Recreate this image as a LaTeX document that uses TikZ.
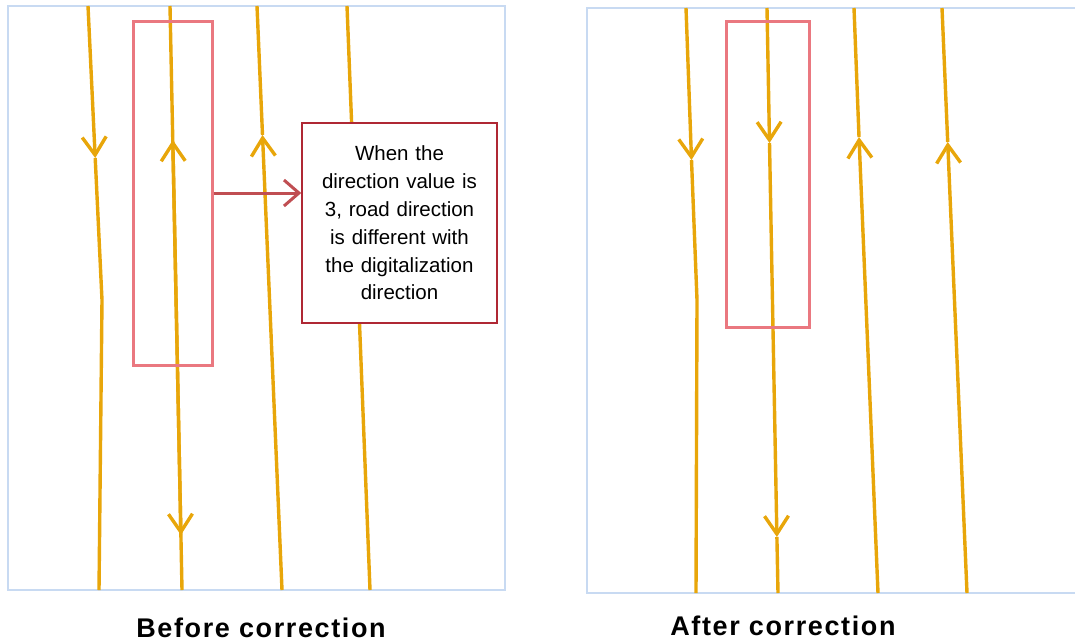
\documentclass[tikz,border=0pt]{standalone}
\usepackage{fontspec}
\setmainfont{Liberation Sans}
\newfontfamily\capfont[LetterSpace=6]{Liberation Sans}
\usetikzlibrary{arrows.meta}
\definecolor{roadc}{RGB}{232,166,10}
\definecolor{framec}{RGB}{200,218,242}
\definecolor{selc}{RGB}{234,120,128}
\definecolor{notec}{RGB}{175,40,52}
\definecolor{linkc}{RGB}{192,78,82}
\begin{document}
\begin{tikzpicture}[x=1pt,y=-1pt,
  road/.style={draw=roadc,line width=3.4pt},
  barb/.style={-{Straight Barb[length=18pt,width=24pt,line width=3.4pt]}},
  frame/.style={draw=framec,line width=1.5pt},
  selbox/.style={draw=selc,line width=3pt,inner sep=0pt},
  notebox/.style={draw=notec,line width=1.5pt,fill=white,inner sep=0pt,
    minimum width=195pt,minimum height=200pt,text width=185pt,align=center,
    font=\fontsize{20.5}{27.8}\selectfont},
  caption/.style={font=\capfont\bfseries\fontsize{27}{30}\selectfont,anchor=base}]
\useasboundingbox (0,0) rectangle (1075,643);
% frames
\draw[frame] (8,6) rectangle (505,590);
\draw[frame] (1075,8) -- (587,8) -- (587,593) -- (1075,593);
% ---------- left panel roads ----------
\coordinate (a1t) at (88,6);   \coordinate (a1m) at (95.2,158);
\coordinate (a1k) at (102,300); \coordinate (a1b) at (99,590);
\draw[road,barb] (a1t) -- (a1m);
\draw[road] (a1m) -- (a1k) -- (a1b);
\coordinate (a2t) at (170,6);   \coordinate (a2u) at (172.8,140);
\coordinate (a2d) at (180.9,535); \coordinate (a2b) at (182,590);
\draw[road,barb] (a2t) -- (a2d);
\draw[road,barb] (a2d) -- (a2u);
\draw[road] (a2d) -- (a2b);
\coordinate (a3t) at (257,6);   \coordinate (a3u) at (262.5,135);
\coordinate (a3b) at (282,590);
\draw[road,barb] (a3b) -- (a3u);
\draw[road] (a3u) -- (a3t);
\coordinate (a4t) at (347,6);   \coordinate (a4b) at (370,590);
\draw[road] (a4t) -- (a4b);
% ---------- right panel roads ----------
\coordinate (b1t) at (686,8);   \coordinate (b1m) at (691.5,160);
\coordinate (b1k) at (697,300); \coordinate (b1b) at (696,593);
\draw[road,barb] (b1t) -- (b1m);
\draw[road] (b1m) -- (b1k) -- (b1b);
\coordinate (b2t) at (767,8);   \coordinate (b2u) at (769.5,143);
\coordinate (b2d) at (776.9,537); \coordinate (b2b) at (778,593);
\draw[road,barb] (b2t) -- (b2u);
\draw[road,barb] (b2u) -- (b2d);
\draw[road] (b2d) -- (b2b);
\coordinate (b3t) at (854,8);   \coordinate (b3u) at (859,137);
\coordinate (b3b) at (878,593);
\draw[road,barb] (b3b) -- (b3u);
\draw[road] (b3u) -- (b3t);
\coordinate (b4t) at (942,8);   \coordinate (b4u) at (947.7,142);
\coordinate (b4b) at (967,593);
\draw[road,barb] (b4b) -- (b4u);
\draw[road] (b4u) -- (b4t);
% ---------- selection boxes ----------
\node[selbox,minimum width=79pt,minimum height=344pt] (selA) at (172.5,193) {};
\node[selbox,minimum width=83pt,minimum height=306pt] (selB) at (767.5,174) {};
% ---------- note ----------
\node[notebox] (note) at (399.5,223) {When the\\direction value is\\3, road direction\\is different with\\the digitalization\\direction};
\draw[draw=linkc,line width=3pt,-{Straight Barb[length=15pt,width=26pt,line width=3pt]}]
  (selA.east) -- (selA.east -| note.west);
% ---------- captions ----------
\node[caption] (capA) at (261,637) {Before correction};
\node[caption] (capB) at (783,635) {After correction};
\end{tikzpicture}
\end{document}
